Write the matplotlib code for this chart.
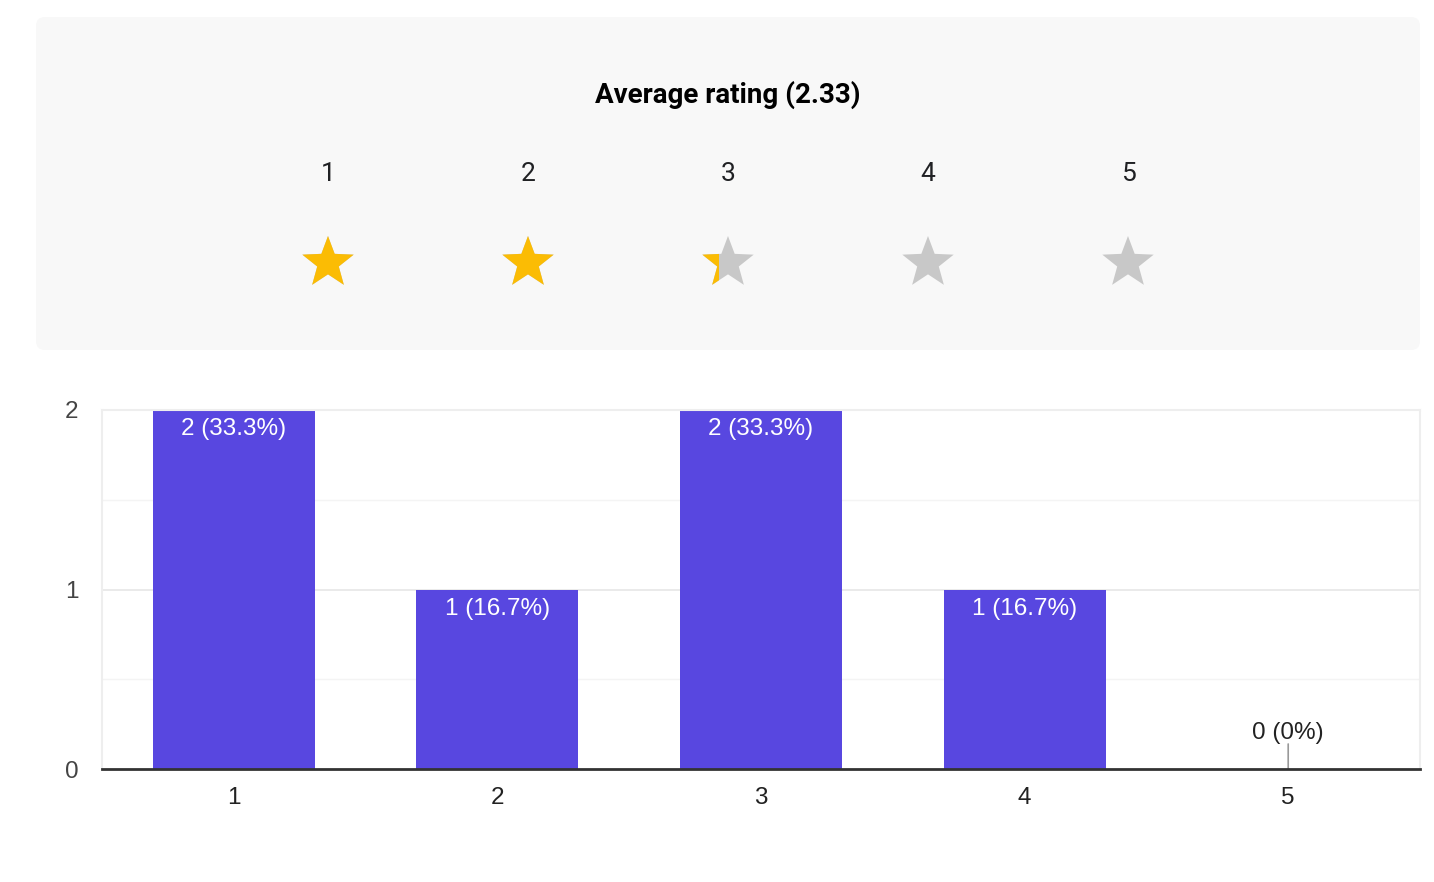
import numpy as np
import matplotlib
matplotlib.use("Agg")
import matplotlib.pyplot as plt
from matplotlib.patches import FancyBboxPatch, Polygon, Rectangle

# data
ratings = [1, 2, 3, 4, 5]
counts = [2, 1, 2, 1, 0]
tick_labels = ["1", "2", "3", "4", "5"]

total = sum(counts)
avg = sum(r * c for r, c in zip(ratings, counts)) / total

W, H = 1434, 882
fig = plt.figure(figsize=(W / 100, H / 100), dpi=100)
fig.patch.set_facecolor("white")

# top panel drawn in pixel coordinates
ov = fig.add_axes([0, 0, 1, 1])
ov.set_xlim(0, W)
ov.set_ylim(H, 0)
ov.axis("off")
ov.add_patch(FancyBboxPatch((36, 17), 1384, 333, boxstyle="round,pad=0,rounding_size=9",
                            facecolor="#f8f8f8", edgecolor="none"))
ov.text(728, 95, "Average rating (%.2f)" % avg, ha="center", va="center",
        fontsize=20, fontweight="bold", family="Roboto", color="#000000")


def star(cx, cy, R, r):
    pts = []
    for k in range(10):
        rad = R if k % 2 == 0 else r
        a = np.pi / 2 + k * np.pi / 5
        pts.append((cx + rad * np.cos(a), cy - rad * np.sin(a)))
    return pts


R = 27
for i, r in enumerate(ratings):
    cx = 328 + 200 * i
    ov.text(cx, 174, str(r), ha="center", va="center", fontsize=19,
            family="Roboto", color="#202124")
    pts = star(cx, 263, R, R * 0.42)
    frac = min(max(avg - i, 0), 1)
    ov.add_patch(Polygon(pts, closed=True, facecolor="#c8c8c8", edgecolor="none"))
    if frac > 0:
        gold = Polygon(pts, closed=True, facecolor="#fbbc04", edgecolor="none")
        ov.add_patch(gold)
        left = cx - R * np.sin(2 * np.pi / 5)
        clip = Rectangle((left, 200), 2 * R * np.sin(2 * np.pi / 5) * frac, 120,
                         transform=ov.transData)
        gold.set_clip_path(clip)

# bar chart
ax = fig.add_axes([102 / W, (H - 769) / H, 1318 / W, 359 / H])
ax.set_xlim(0.5, 5.5)
ax.set_ylim(0, 2)
for y in [0.5, 1.5]:
    ax.axhline(y, color="#f4f4f4", lw=1, zorder=0)
for y in [1, 2]:
    ax.axhline(y, color="#e6e6e6", lw=1.2, zorder=0)
ax.bar(ratings, counts, width=0.615, color="#5847e0", zorder=2)

for r, c in zip(ratings, counts):
    pct = 100 * c / total
    pct_s = ("%.1f" % pct) if c else "0"
    label = "%d (%s%%)" % (c, pct_s)
    if c > 0:
        ax.annotate(label, (r, c), xytext=(0, -14), textcoords="offset points",
                    ha="center", va="center", color="white", fontsize=17.5,
                    family="Liberation Sans", zorder=3)
    else:
        ax.annotate("", (r, c), xytext=(0, 18), textcoords="offset points",
                    arrowprops=dict(arrowstyle="-", color="#999999", lw=1.2,
                                    shrinkA=0, shrinkB=0), zorder=3)
        ax.annotate(label, (r, c), xytext=(0, 26), textcoords="offset points",
                    ha="center", va="center", color="#222222", fontsize=17.5,
                    family="Liberation Sans", zorder=3)

ax.set_xticks(ratings)
ax.set_xticklabels(tick_labels)
ax.set_yticks([0, 1, 2])
ax.tick_params(length=0, labelsize=17.5)
ax.tick_params(axis="x", pad=13, colors="#222222")
ax.tick_params(axis="y", pad=17, colors="#444444")
for lab in ax.get_xticklabels() + ax.get_yticklabels():
    lab.set_family("Liberation Sans")
for s in ["left", "top", "right"]:
    ax.spines[s].set_color("#eeeeee")
    ax.spines[s].set_linewidth(1.5)
ax.spines["bottom"].set_color("#333333")
ax.spines["bottom"].set_linewidth(2)
ax.spines["bottom"].set_zorder(4)

fig.savefig("out.png", dpi=100)
